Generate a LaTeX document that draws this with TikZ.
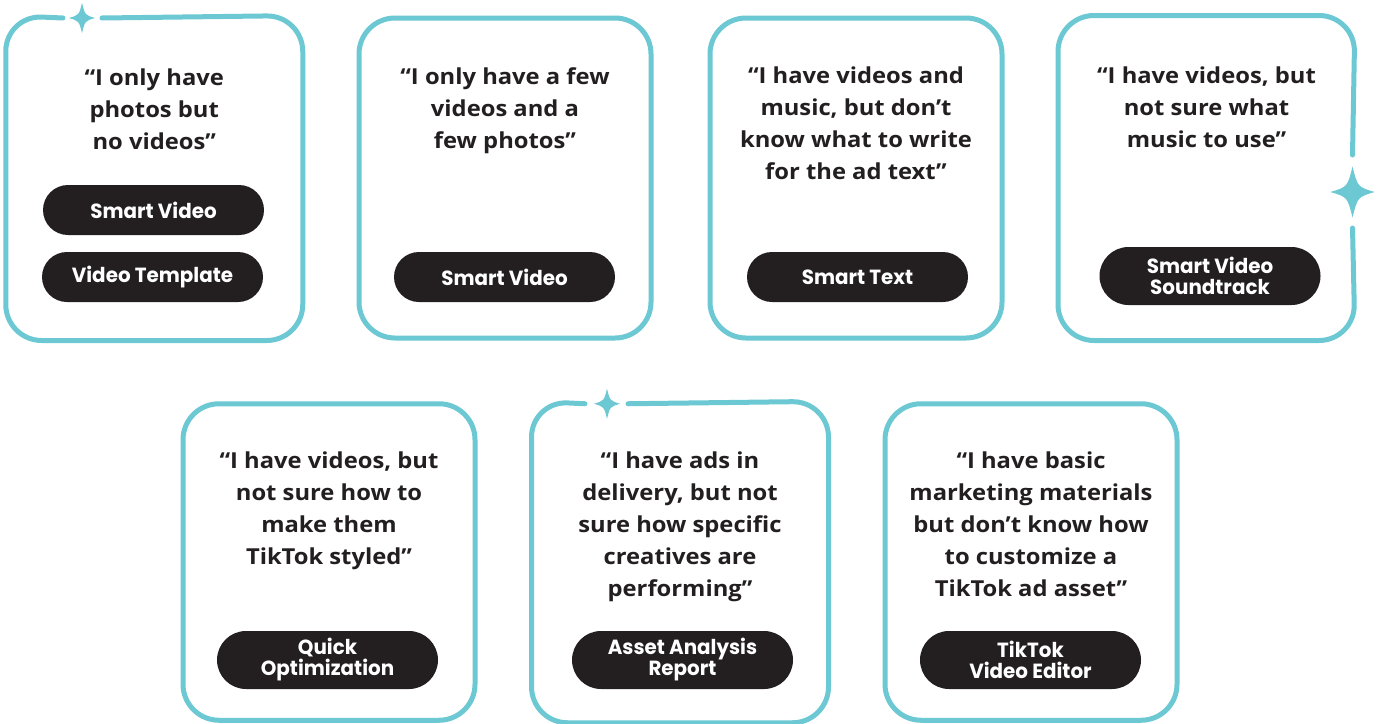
\documentclass[tikz,border=0pt]{standalone}
\usepackage{fontspec}
\setmainfont{Open Sans}
\newfontfamily\quotefont{Open Sans}[FakeStretch=1.08]
\newfontfamily\pillfont{Poppins}[FakeStretch=0.97]
\usetikzlibrary{positioning}
\definecolor{bordercolor}{RGB}{108,200,210}
\definecolor{pillcolor}{RGB}{35,31,32}

\begin{document}
\begin{tikzpicture}[x=1pt, y=-1pt,
  card/.style={rectangle, rounded corners=36pt, minimum width=292pt, minimum height=320pt, inner sep=0pt, draw=bordercolor, line width=5pt},
  cardframe/.style={card, draw=none},
  border/.style={draw=bordercolor, line width=5pt, rounded corners=36pt, line cap=round},
  quote/.style={align=center, inner sep=0pt, text=pillcolor, font=\quotefont\fontsize{22}{32}\selectfont\bfseries},
  pill/.style={rectangle, rounded corners=25pt, fill=pillcolor, text=white, minimum width=221pt, minimum height=50pt, align=center, inner sep=0pt, font=\pillfont\fontsize{20.5}{21}\selectfont\bfseries},
  tallpill/.style={pill, minimum height=58pt, rounded corners=29pt},
  sparkle/.pic={\fill[bordercolor] (0,-15) .. controls (3,-3) .. (13,0) .. controls (3,3) .. (0,15) .. controls (-3,3) .. (-13,0) .. controls (-3,-3) .. cycle;}
]
  \useasboundingbox (0,0) rectangle (1380,723);

  % top row
  \node[cardframe] (c1) at (154.25,178) {};
  \draw[border] (102,18) -- (c1.north east) -- (c1.south east) -- (c1.south west) -- (c1.north west) -- (63,18);
  \pic at (82,18) {sparkle};
  \node[card] (c2) at (505,178) {};
  \node[card] (c3) at (856,178) {};
  \node[cardframe] (c4) at (1206.5,178) {};
  \draw[border] (1352.5,228) -- (c4.south east) -- (c4.south west) -- (c4.north west) -- (c4.north east) -- (1352.5,155);
  \pic[scale=1.7] at (1352.5,192) {sparkle};

  % bottom row
  \node[card, minimum height=316.5pt] (c5) at (329,562) {};
  \node[cardframe, minimum height=316.5pt] (c6) at (680,562) {};
  \draw[border] (628,403.75) -- (c6.north east) -- (c6.south east) -- (c6.south west) -- (c6.north west) -- (585,403.75);
  \pic at (607,403.75) {sparkle};
  \node[card, minimum height=316.5pt] (c7) at (1031,562) {};

  % quotes
  \node[quote, below=53.5pt of c1.north] (q1) {“I only have\\photos but\\no videos”};
  \node[quote, below=51.5pt of c2.north] (q2) {“I only have a few\\videos and a\\few photos”};
  \node[quote, below=51.5pt of c3.north] (q3) {“I have videos and\\music, but don’t\\know what to write\\for the ad text”};
  \node[quote, below=51.5pt of c4.north] (q4) {“I have videos, but\\not sure what\\music to use”};
  \node[quote, below=50pt of c5.north] (q5) {“I have videos, but\\not sure how to\\make them\\TikTok styled”};
  \node[quote, below=50pt of c6.north] (q6) {“I have ads in\\delivery, but not\\sure how specific\\creatives are\\performing”};
  \node[quote, below=50pt of c7.north] (q7) {“I have basic\\marketing materials\\but don’t know how\\to customize a\\TikTok ad asset”};

  % tools
  \node[pill] (p1a) at (153.5,210) {Smart Video};
  \node[pill] (p1b) at (152.5,277) {Video Template};
  \node[pill] (p2) at (504.5,277) {Smart Video};
  \node[pill] (p3) at (857.5,277) {Smart Text};
  \node[tallpill] (p4) at (1210,276) {Smart Video\\Soundtrack};
  \node[tallpill] (p5) at (327.5,660) {Quick\\Optimization};
  \node[tallpill] (p6) at (682.5,660) {Asset Analysis\\Report};
  \node[tallpill] (p7) at (1030.5,660) {TikTok\\Video Editor};
\end{tikzpicture}
\end{document}
